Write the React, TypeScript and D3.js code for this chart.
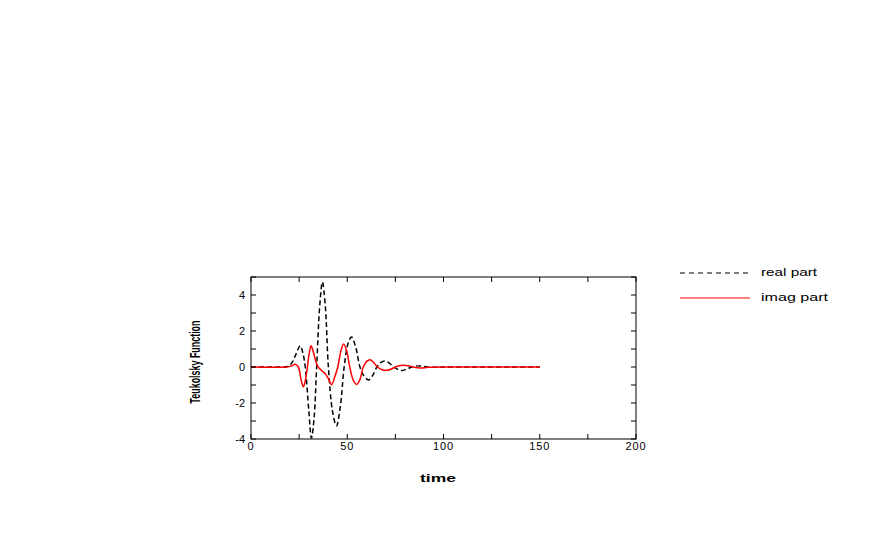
import React from "react";
import * as d3 from "d3";

const realT = [0, 15, 19, 21, 23, 25.6, 27, 28.2, 30, 31.4, 32.8, 34.1, 35.7, 37.1, 38.6, 40.2, 42.4, 44.4, 46.4, 48.4, 50.4, 52.2, 54.4, 56.6, 59, 61.2, 63.3, 65.4, 67.6, 69.8, 72, 74.2, 76.6, 78.5, 80.8, 83.5, 86, 88.5, 91.5, 95, 100, 110, 120, 135, 150];
const realV = [0, 0, 0.03, 0.2, 0.62, 1.18, 0.75, 0, -2.4, -3.95, -2.8, 0, 3.4, 4.72, 3.4, 0, -2.5, -3.27, -2.2, 0, 1.3, 1.67, 1.1, 0, -0.55, -0.72, -0.45, 0, 0.26, 0.33, 0.2, 0, -0.15, -0.2, -0.12, 0, 0.06, 0.05, 0, -0.02, 0, 0, 0, 0, 0];

const imagT = [0, 18, 21, 22.9, 24.6, 26, 27.2, 28.3, 29.3, 30.3, 31.2, 32.2, 33.2, 34.6, 36.5, 38.4, 40.2, 41.9, 43.5, 45.1, 46.6, 48.1, 49.7, 51.3, 53.2, 54.9, 56.6, 58.3, 60, 61.8, 63.7, 65.7, 68, 70.8, 73.5, 76, 79, 82, 85, 88, 92, 100, 110, 150];
const imagV = [0, 0, 0.05, 0.15, 0, -0.7, -1.1, -0.7, 0, 0.8, 1.18, 0.9, 0.5, 0.05, -0.18, -0.35, -0.65, -0.98, -0.55, 0, 0.85, 1.28, 0.9, 0, -0.75, -0.97, -0.7, 0, 0.3, 0.4, 0.25, 0, -0.15, -0.18, -0.08, 0.04, 0.1, 0.06, -0.02, -0.05, -0.02, 0, 0, 0];

const xTicks = [0, 25, 50, 75, 100, 125, 150, 175, 200];
const xLabels = [0, 50, 100, 150, 200];
const yTicks = [-4, -3, -2, -1, 0, 1, 2, 3, 4, 5];
const yLabels = [-4, -2, 0, 2, 4];
const seriesNames = ["real part", "imag part"];

export default function App() {
  const L = 251, R = 636, T = 277, B = 439;
  const x = d3.scaleLinear().domain([0, 200]).range([L, R]);
  const y = d3.scaleLinear().domain([-4, 5]).range([B, T]);
  const line = d3
    .line<[number, number]>()
    .x((d) => x(d[0]))
    .y((d) => y(d[1]))
    .curve(d3.curveCatmullRom.alpha(0.5));
  const realPts = realT.map((t, i) => [t, realV[i]] as [number, number]);
  const imagPts = imagT.map((t, i) => [t, imagV[i]] as [number, number]);
  const font = "'Liberation Sans', Arial, Helvetica, sans-serif";
  const tl = 5;
  return (
    <svg
      width={872}
      height={545}
      style={{ position: "absolute", left: 0, top: 0, background: "#fff" }}
      fontFamily={font}
    >
      <defs>
        <clipPath id="plotclip">
          <rect x={L} y={T} width={R - L} height={B - T} />
        </clipPath>
      </defs>
      <g clipPath="url(#plotclip)">
        <path d={line(realPts) || ""} fill="none" stroke="#000" strokeWidth={1.5} strokeDasharray="5,3" />
        <path d={line(imagPts) || ""} fill="none" stroke="#ff0000" strokeWidth={1.5} />
      </g>
      <rect x={L} y={T} width={R - L} height={B - T} fill="none" stroke="#000" strokeWidth={1} />
      {xTicks.map((t) => (
        <g key={"xt" + t} stroke="#000" strokeWidth={1}>
          <line x1={x(t)} x2={x(t)} y1={B} y2={B - tl} />
          <line x1={x(t)} x2={x(t)} y1={T} y2={T + tl} />
        </g>
      ))}
      {yTicks.map((t) => (
        <g key={"yt" + t} stroke="#000" strokeWidth={1}>
          <line x1={L} x2={L + tl} y1={y(t)} y2={y(t)} />
          <line x1={R} x2={R - tl} y1={y(t)} y2={y(t)} />
        </g>
      ))}
      {xLabels.map((t) => (
        <text key={"xl" + t} x={x(t)} y={B + 11} fontSize={11} textAnchor="middle" fill="#000" letterSpacing={0.8}>
          {t}
        </text>
      ))}
      {yLabels.map((t) => (
        <text key={"yl" + t} x={L - 6} y={y(t) + 4} fontSize={11} textAnchor="end" fill="#000">
          {t}
        </text>
      ))}
      <text
        x={438}
        y={482}
        fontSize={11}
        fontWeight="bold"
        textAnchor="middle"
        textLength={36}
        lengthAdjust="spacingAndGlyphs"
      >
        time
      </text>
      <text
        transform={`translate(200,362) rotate(-90)`}
        fontSize={14}
        fontWeight="bold"
        textAnchor="middle"
        textLength={83}
        lengthAdjust="spacingAndGlyphs"
      >
        Teukolsky Function
      </text>
      <line x1={680} x2={749} y1={273} y2={273} stroke="#000" strokeWidth={1.2} strokeDasharray="5,4" />
      <line x1={680} x2={750} y1={298} y2={298} stroke="#ff0000" strokeWidth={1.2} />
      <text x={761} y={276} fontSize={11} textLength={56} lengthAdjust="spacingAndGlyphs">
        {seriesNames[0]}
      </text>
      <text x={761} y={301} fontSize={11} textLength={67} lengthAdjust="spacingAndGlyphs">
        {seriesNames[1]}
      </text>
    </svg>
  );
}
